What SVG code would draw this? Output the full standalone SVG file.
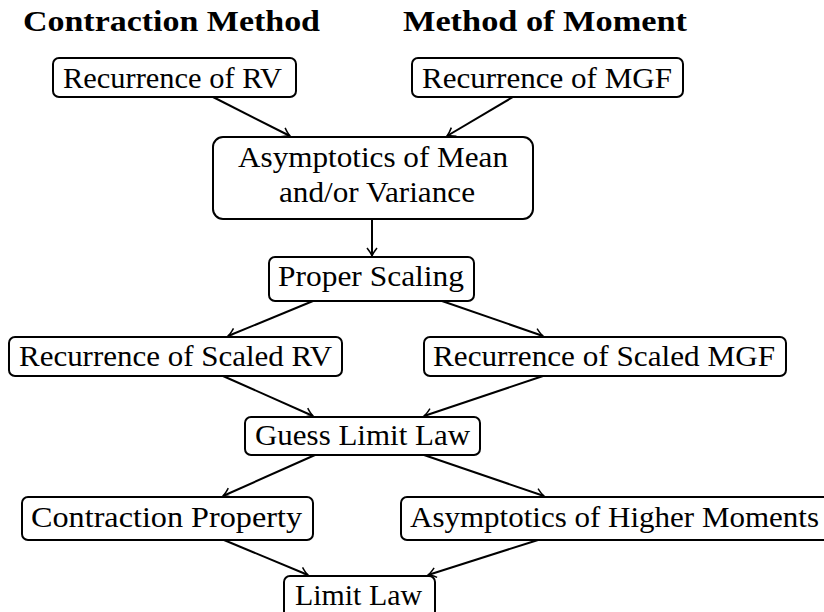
<svg xmlns="http://www.w3.org/2000/svg" width="824" height="612" viewBox="0 0 824 612">
<defs>
<style>
.box{fill:#fff;stroke:#000;stroke-width:2}
.t{font-family:"Liberation Serif","DejaVu Serif","Times New Roman",serif;font-size:30px;fill:#000}
.h{font-family:"Liberation Serif","DejaVu Serif","Times New Roman",serif;font-size:30px;font-weight:bold;fill:#000}
.c{fill:none;stroke:#000;stroke-width:2;marker-end:url(#ar)}
</style>
<marker id="ar" markerUnits="userSpaceOnUse" markerWidth="14" markerHeight="14" viewBox="-10 -7 12 14" refX="0" refY="0" orient="auto">
<path d="M -8 -5 Q -3 -1 0 0 Q -3 1 -8 5" fill="none" stroke="#000" stroke-width="1.5"/>
</marker>
</defs>
<rect width="824" height="612" fill="#fff"/>
<g id="titles">
<text class="h" x="23" y="31" textLength="297" lengthAdjust="spacingAndGlyphs">Contraction Method</text>
<text class="h" x="403" y="31" textLength="284" lengthAdjust="spacingAndGlyphs">Method of Moment</text>
</g>
<g id="connectors">
<line class="c" x1="213" y1="97" x2="290" y2="136"/>
<line class="c" x1="513" y1="97" x2="447" y2="136"/>
<line class="c" x1="372" y1="219" x2="372" y2="256"/>
<line class="c" x1="313" y1="301" x2="228" y2="336"/>
<line class="c" x1="442" y1="301" x2="543" y2="336"/>
<line class="c" x1="223" y1="376" x2="313" y2="416"/>
<line class="c" x1="543" y1="376" x2="424" y2="416"/>
<line class="c" x1="315" y1="455" x2="223" y2="496"/>
<line class="c" x1="424" y1="455" x2="544" y2="496"/>
<line class="c" x1="224" y1="540" x2="308" y2="575"/>
<line class="c" x1="538" y1="540" x2="428" y2="575"/>
</g>
<g id="rv">
<rect class="box" x="53" y="58" width="243" height="39" rx="6"/>
<text class="t" x="63" y="88" textLength="219" lengthAdjust="spacingAndGlyphs">Recurrence of RV</text>
</g>
<g id="mgf">
<rect class="box" x="412" y="58" width="271" height="39" rx="6"/>
<text class="t" x="422" y="88" textLength="250" lengthAdjust="spacingAndGlyphs">Recurrence of MGF</text>
</g>
<g id="asym">
<rect class="box" x="213" y="137" width="320" height="82" rx="10"/>
<text class="t" x="238" y="167" textLength="270" lengthAdjust="spacingAndGlyphs">Asymptotics of Mean</text>
<text class="t" x="279" y="202" textLength="196" lengthAdjust="spacingAndGlyphs">and/or Variance</text>
</g>
<g id="scaling">
<rect class="box" x="269" y="257" width="205" height="44" rx="6"/>
<text class="t" x="278" y="286" textLength="186" lengthAdjust="spacingAndGlyphs">Proper Scaling</text>
</g>
<g id="srv">
<rect class="box" x="9" y="337" width="333" height="39" rx="6"/>
<text class="t" x="19" y="366" textLength="313" lengthAdjust="spacingAndGlyphs">Recurrence of Scaled RV</text>
</g>
<g id="smgf">
<rect class="box" x="424" y="337" width="362" height="39" rx="6"/>
<text class="t" x="433" y="366" textLength="342" lengthAdjust="spacingAndGlyphs">Recurrence of Scaled MGF</text>
</g>
<g id="guess">
<rect class="box" x="245" y="417" width="235" height="38" rx="6"/>
<text class="t" x="255" y="445" textLength="215" lengthAdjust="spacingAndGlyphs">Guess Limit Law</text>
</g>
<g id="contraction">
<rect class="box" x="22" y="497" width="291" height="43" rx="6"/>
<text class="t" x="31" y="527" textLength="271" lengthAdjust="spacingAndGlyphs">Contraction Property</text>
</g>
<g id="higher">
<rect class="box" x="401" y="497" width="430" height="43" rx="6"/>
<text class="t" x="410" y="527" textLength="409" lengthAdjust="spacingAndGlyphs">Asymptotics of Higher Moments</text>
</g>
<g id="limit">
<rect class="box" x="284" y="576" width="151" height="44" rx="6"/>
<text class="t" x="295" y="605" textLength="127" lengthAdjust="spacingAndGlyphs">Limit Law</text>
</g>
</svg>
